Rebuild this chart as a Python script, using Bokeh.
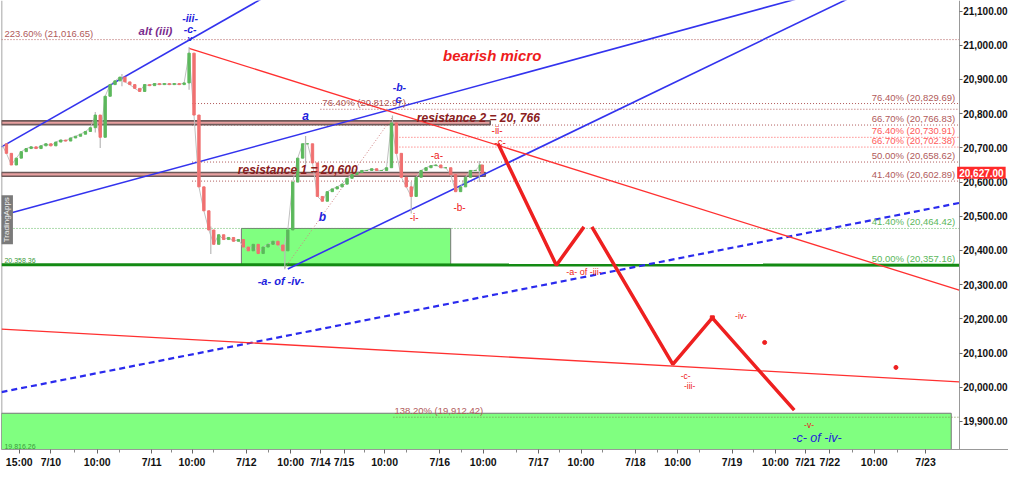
from bokeh.plotting import figure
from bokeh.models import Range1d, FixedTicker, NumeralTickFormatter, Label, ColumnDataSource
from bokeh.embed import file_html
from bokeh.resources import INLINE
import math

# ---------------- data ----------------
# time index (chart units along the session axis) and closes
t = list(range(0, 486, 5)) + [487]
closes = [20712, 20684, 20650, 20670, 20689, 20698, 20703, 20698, 20706, 20712,
          20706, 20717, 20723, 20720, 20729, 20734, 20740, 20748, 20759, 20796,
          20731, 20851, 20885, 20896, 20907, 20893, 20885, 20874, 20865, 20885,
          20882, 20888, 20885, 20888, 20885, 20888, 20885, 20890, 20977, 20796,
          20586, 20516, 20460, 20418, 20446, 20432, 20438, 20427, 20432, 20410,
          20399, 20418, 20391, 20410, 20418, 20427, 20416, 20399, 20460, 20600,
          20670, 20712, 20712, 20656, 20558, 20544, 20572, 20580, 20586, 20594,
          20611, 20622, 20628, 20634, 20634, 20639, 20634, 20634, 20642, 20773,
          20684, 20614, 20586, 20558, 20614, 20634, 20642, 20648, 20650, 20642,
          20642, 20622, 20572, 20586, 20614, 20634, 20634, 20650, 20627]

# notable wicks
wick_t = [95, 100, 122, 190, 212, 287, 308, 396, 415, 484]
wick_lo = [20745, 20700, 20880, 20870, 20390, 20345, 20650, 20650, 20508, 20600]
wick_hi = [20805, 20760, 20916, 20995, 20470, 20420, 20735, 20795, 20600, 20662]

last_price = 20627.00

# x-axis ticks
tick_pos = [18, 50, 97, 152, 193, 248, 293, 323, 347, 388, 444, 488, 544, 587,
            642, 685, 740, 784, 814, 839, 884, 936]
tick_lbl = ["15:00", "7/10", "10:00", "7/11", "10:00", "7/12", "10:00", "7/14",
            "7/15", "10:00", "7/16", "10:00", "7/17", "10:00", "7/18", "10:00",
            "7/19", "10:00", "7/21", "7/22", "10:00", "7/23"]
minor_pos = [74, 120, 172, 215, 270, 368, 410, 466, 522, 565, 609, 664, 707,
             762, 862, 908]

y_ticks = [19900, 20000, 20100, 20200, 20300, 20400, 20500, 20600, 20700,
           20800, 20900, 21000, 21100]

# Fibonacci levels
fib_levels = [21016.65, 20829.69, 20812.97, 20766.83, 20730.91, 20702.38,
              20658.62, 20602.89, 20464.42, 19912.42]
fib_pct = ["223.60%", "76.40%", "76.40%", "66.70%", "76.40%", "66.70%",
           "50.00%", "41.40%", "41.40%", "138.20%"]
green_level = 20357.16
green_left = 20358.36
box_low = 19816.26

resist1 = 20600
resist2 = 20766

# channel / trend lines: (t0, p0, t1, p1)
blue_lines = [(0, 20703, 300, 21196), (0, 20502, 900, 21210), (290, 20346, 950, 21265)]
blue_dash = (0, 19986, 970, 20539)
red_lines = [(190, 20991, 970, 20284), (0, 20170, 970, 20016)]
dotted_link = (287, 20349, 396, 20790)

# projected path
proj1_t = [503, 562, 590]
proj1_p = [20712, 20357, 20469]
proj2_t = [598, 680, 720, 803]
proj2_p = [20469, 20067, 20203, 19933]
dots_t = [773, 906]
dots_p = [20131, 20058]

AXIS_AT = 970

# ---------------- figure ----------------
p = figure(width=1008, height=470, output_backend="svg", toolbar_location=None,
           x_range=Range1d(0, 1020), y_range=Range1d(19818, 21131),
           y_axis_location="right", tools="")
p.min_border_left = 1
p.min_border_top = 0
p.min_border_bottom = 0
p.min_border_right = 0
p.xgrid.visible = False
p.ygrid.visible = False
p.outline_line_color = None
p.background_fill_color = "white"

FONT = "Liberation Sans"

# axes
p.xaxis.ticker = FixedTicker(ticks=tick_pos, minor_ticks=minor_pos)
p.xaxis.major_label_overrides = {tp: lb for tp, lb in zip(tick_pos, tick_lbl)}
p.yaxis.ticker = FixedTicker(ticks=y_ticks)
p.yaxis.formatter = NumeralTickFormatter(format="0,0.00")
p.yaxis.fixed_location = AXIS_AT
for ax in (p.xaxis, p.yaxis):
    ax.axis_line_color = "#999999"
    ax.major_tick_line_color = "#666666"
    ax.minor_tick_line_color = "#888888"
    ax.major_label_text_font = FONT
    ax.major_label_text_font_style = "bold"
    ax.major_label_text_font_size = "10.5px"
    ax.major_label_text_color = "#111111"
    ax.major_tick_in = 0
    ax.major_tick_out = 4
    ax.minor_tick_in = 0
    ax.minor_tick_out = 3
    ax.major_label_standoff = 2
p.yaxis.major_label_text_font_size = "10px"
p.yaxis.major_tick_out = 3
p.yaxis.major_label_standoff = 1
p.yaxis.minor_tick_line_color = None

# left frame edge
p.line([0, 0], [19818, 21131], line_color="#888888", line_width=1.5)

# green boxes
p.quad(left=[243, 0], right=[455, 962], bottom=[green_level, box_low],
       top=[fib_levels[8], 19924], fill_color="#80ff80", line_color="#777777",
       line_width=1)

# fib dotted lines
fib_start = [0, 193, 323, 193, 400, 400, 193, 193, 0, 397]
fib_col = ["#b05a5a", "#b05a5a", "#b05a5a", "#b05a5a", "#ff5a5a", "#ff5a5a",
           "#b05a5a", "#b05a5a", "#5cb85c", "#7a8a4a"]
p.segment(x0=fib_start, y0=fib_levels, x1=[AXIS_AT] * len(fib_levels), y1=fib_levels,
          line_color=fib_col, line_dash="1 2", line_width=1)

# resistance bands
p.quad(left=[0, 0], right=[490, 495], bottom=[20617, 20768], top=[20628, 20779],
       fill_color="#e8a0a0", line_color="#6e5a5a", line_width=1.6)

# green support line
p.line([0, AXIS_AT], [green_left, green_level], line_color="#138a13", line_width=3)

# blue lines
for (a, b, c, d) in blue_lines:
    p.line([a, c], [b, d], line_color="#3333ee", line_width=1.6)
p.line([blue_dash[0], blue_dash[2]], [blue_dash[1], blue_dash[3]],
       line_color="#2a2aee", line_width=2.2, line_dash="6 4")

# red lines
for (a, b, c, d) in red_lines:
    p.line([a, c], [b, d], line_color="#ff3030", line_width=1.3)
p.line([dotted_link[0], dotted_link[2]], [dotted_link[1], dotted_link[3]],
       line_color="#d08080", line_dash="1 2", line_width=1)

# price candles
p.line(t, closes, line_color="#c0c0c0", line_width=1)
p.segment(x0=wick_t, y0=wick_lo, x1=wick_t, y1=wick_hi, line_color="#b8b8b8",
          line_width=1.2)
opens = closes[:-1]
cls = closes[1:]
tt = t[1:]
cols = ["#5cb85c" if c >= o else "#f07070" for o, c in zip(opens, cls)]
src = ColumnDataSource(dict(x=tt, bottom=[min(o, c) for o, c in zip(opens, cls)],
                            top=[max(o, c) for o, c in zip(opens, cls)], c=cols))
p.vbar(x="x", bottom="bottom", top="top", width=2.4, fill_color="c",
       line_color="c", source=src)

# projected path
p.line(proj1_t, proj1_p, line_color="#ee2020", line_width=3.5)
p.line(proj2_t, proj2_p, line_color="#ee2020", line_width=3.5)
p.scatter(dots_t, dots_p, size=4, color="#ee2020")
p.scatter([720], [20203], size=4, marker="square", color="#ee2020")


def lab(x, y, text, color, size="10px", style="normal", align="center",
        baseline="middle", angle=0.0, **kw):
    p.add_layout(Label(x=x, y=y, text=text, text_color=color, text_font=FONT,
                       text_font_size=size, text_font_style=style,
                       text_align=align, text_baseline=baseline, angle=angle, **kw))


# fib texts on the right
right_lbls = [(1, "#b05a5a"), (3, "#b05a5a"), (4, "#ff5a5a"), (5, "#ff5a5a"),
              (6, "#b05a5a"), (7, "#b05a5a"), (8, "#5cb85c")]
for i, col in right_lbls:
    lab(966, fib_levels[i] + 3, f"{fib_pct[i]} ({fib_levels[i]:,.2f})", col,
        size="9.5px", align="right", baseline="bottom")
lab(966, green_level + 3, f"50.00% ({green_level:,.2f})", "#5cb85c",
    size="9.5px", align="right", baseline="bottom")
lab(3, fib_levels[0] + 3, f"{fib_pct[0]} ({fib_levels[0]:,.2f})", "#b05a5a",
    size="9.5px", align="left", baseline="bottom")
lab(325, fib_levels[2] + 3, f"{fib_pct[2]} ({fib_levels[2]:,.2f})", "#b05a5a",
    size="9.5px", align="left", baseline="bottom")
lab(398, fib_levels[9] + 3, f"{fib_pct[9]} ({fib_levels[9]:,.2f})", "#b05a5a",
    size="9.5px", align="left", baseline="bottom")
lab(3, green_left + 4, f"{green_left:,.2f}", "#3a9a3a", size="7px",
    align="left", baseline="bottom")
lab(3, box_low + 4, f"{box_low:,.2f}", "#3a9a3a", size="7px", align="left",
    baseline="bottom")

# annotations
lab(300, 20636, f"resistance 1 = {resist1:,}", "#8a2020", size="12px",
    style="bold italic")
lab(483, 20787, "resistance 2 = 20, 766", "#8a2020", size="12px",
    style="bold italic")
lab(497, 20969, "bearish micro", "#ee1c1c", size="15px", style="bold italic")
lab(156, 21041, "alt (iii)", "#7b2d8e", size="11.5px", style="bold italic")

blue = "#2222dd"
redt = "#ee2020"
lab(191, 21080, "-iii-", blue, size="10.5px", style="bold italic")
lab(191, 21047, "-c-", blue, size="10.5px", style="bold italic")
lab(191, 21021, "v", blue, size="8px", style="bold")
lab(308, 20792, "a", blue, size="12px", style="bold italic")
lab(325, 20497, "b", blue, size="12px", style="bold italic")
lab(403, 20879, "-b-", blue, size="10.5px", style="bold italic")
lab(402, 20843, "c", blue, size="10.5px", style="bold italic")
lab(283, 20312, "-a- of -iv-", blue, size="11px", style="bold italic")
lab(826, 19852, "-c- of -iv-", blue, size="12.5px", style="italic")

lab(418, 20497, "-i-", redt, size="10px")
lab(441, 20677, "-a-", redt, size="10px")
lab(464, 20527, "-b-", redt, size="10px")
lab(502, 20751, "-ii-", redt, size="10px")
lab(505, 20717, "-c-", redt, size="10px")
lab(590, 20337, "-a- of -iii-", redt, size="9px")
lab(749, 20209, "-iv-", redt, size="8.5px")
lab(693, 20033, "-c-", redt, size="8.5px")
lab(697, 20005, "-iii-", redt, size="8.5px")
lab(818, 19891, "-v-", redt, size="8.5px")

# vertical watermark tag
lab(5, 20490, "TradingApps", "#f0f0f0", size="8px", angle=math.pi / 2,
    background_fill_color="#7a7a7a", padding=2)

# last price tag on the axis
lab(968, last_price, f"{last_price:,.2f}", "white", size="10px", style="bold",
    align="left", background_fill_color="#ff2a2a", padding=2)

open("out.html", "w").write(file_html(p, INLINE))
